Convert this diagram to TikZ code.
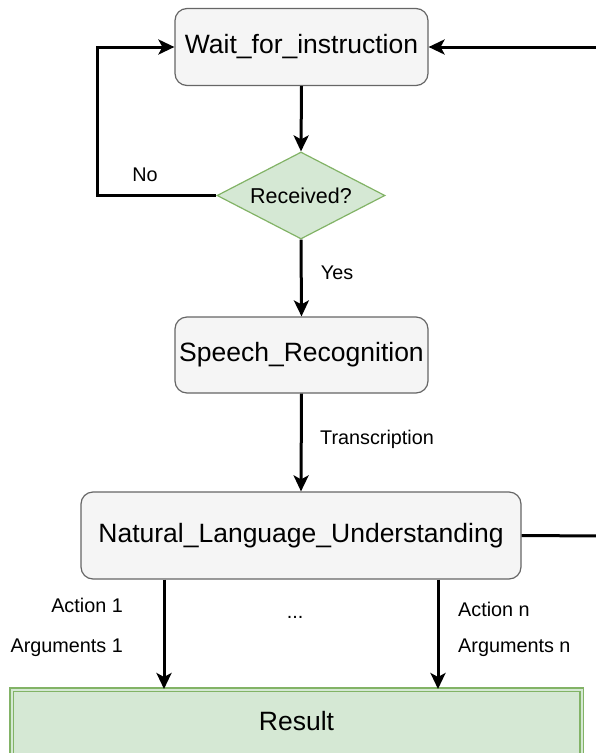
\documentclass[tikz,border=0pt]{standalone}
\usepackage{fontspec}
\setmainfont{Liberation Sans}
\usetikzlibrary{arrows.meta,shapes.geometric,calc}

\definecolor{boxfill}{HTML}{F5F5F5}
\definecolor{boxline}{HTML}{666666}
\definecolor{greenfill}{HTML}{D5E8D4}
\definecolor{greenline}{HTML}{82B366}

\tikzset{
  procbox/.style={draw=boxline, fill=boxfill, line width=1.2pt, rounded corners=12pt,
    minimum width=253pt, minimum height=77pt, inner sep=0pt,
    font=\fontsize{26.5}{30}\selectfont},
  decision/.style={diamond, draw=greenline, fill=greenfill, line width=1.2pt,
    minimum width=168pt, minimum height=87pt, inner sep=0pt, aspect=1.93,
    font=\fontsize{21.5}{25}\selectfont},
  resultbox/.style={draw=greenline, fill=greenfill, double=greenfill, double distance=2pt,
    line width=1.1pt, minimum width=570pt, minimum height=100pt, inner sep=0pt},
  flow/.style={line width=3pt, -{Stealth[length=16pt,width=15pt,inset=4pt]}},
  plainline/.style={line width=3pt},
  lbl/.style={font=\fontsize{19.8}{23}\selectfont, inner sep=0pt},
}

\begin{document}
\begin{tikzpicture}[x=1pt,y=1pt]
  \useasboundingbox (0,0) rectangle (596,-753);
  \clip (0,0) rectangle (596,-753);

  % process boxes
  \node[procbox] (wait) at (301.5,-47) {Wait\_for\_instruction};
  \node[decision] (recv) at (301,-195.5) {};
  \node[font=\fontsize{21.5}{25}\selectfont] (recvtxt) at (recv.center) {Received?};
  \node[procbox, minimum height=76pt] (asr) at (301.5,-355) {Speech\_Recognition};
  \node[procbox, minimum width=440pt, minimum height=87pt] (nlu) at (301,-535.5) {Natural\_Language\_Understanding};
  \node[resultbox, anchor=north] (res) at (296.5,-689) {};
  \node[font=\fontsize{26.5}{30}\selectfont] (restxt) at (296.5,-721) {Result};

  % loose ends leaving the picture on the right
  \coordinate (backin) at (600,-47);
  \coordinate (backout) at (600,-536);
  \coordinate (loopx) at (97,0);

  % connectors
  \draw[flow] (wait.south) -- (recv.north);
  \draw[flow] (recv.west) -- (recv.west -| loopx) |- (wait.west);
  \draw[flow] (backin) -- (wait.east);
  \draw[flow] (recv.south) -- (asr.north);
  \draw[flow] (asr.south) -- (nlu.north);
  \draw[plainline] (nlu.east) -- (backout);
  \draw[flow] (nlu.south -| 164,0) -- (res.north -| 164,0);
  \draw[flow] (nlu.south -| 438,0) -- (res.north -| 438,0);

  % labels
  \node[lbl] (lno) at (145,-175) {No};
  \node[lbl] (lyes) at (337,-273) {Yes};
  \node[lbl, anchor=west] (ltr) at (320,-439) {Transcription};
  \node[lbl, anchor=east] (la1) at (123,-605) {Action 1};
  \node[lbl, anchor=east] (lg1) at (123,-648) {Arguments 1};
  \node[lbl, anchor=base] (ldots) at (295,-618) {...};
  \node[lbl, anchor=west] (lan) at (458,-609) {Action n};
  \node[lbl, anchor=west] (lgn) at (458,-648) {Arguments n};
\end{tikzpicture}
\end{document}
